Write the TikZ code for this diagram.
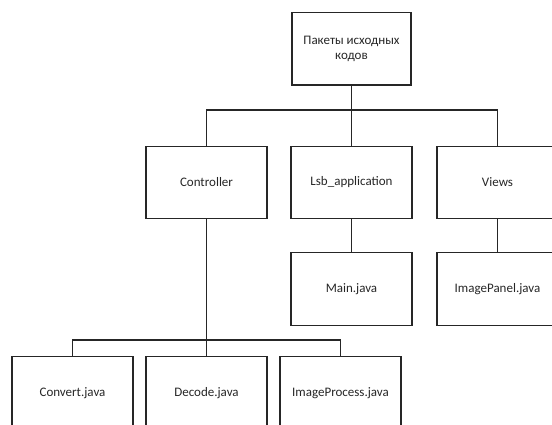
\documentclass[tikz,border=0pt]{standalone}
\usepackage{fontspec}
\setmainfont{Carlito}
\begin{document}
\begin{tikzpicture}[x=1pt,y=-1pt,
  box/.style={draw=black!85, line width=1.1pt, rectangle, minimum width=121pt, minimum height=72pt, inner sep=0pt, align=center, font=\fontsize{13}{15.5}\selectfont, text=black!85},
  conn/.style={draw=black!85, line width=1.1pt}]
\useasboundingbox (0,0) rectangle (552,425);
\clip (0,0) rectangle (552,425);
\node[box, minimum width=119pt, minimum height=72.5pt] (top) at (351.5,48.8) {Пакеты исходных\\кодов};
\node[box] (ctrl) at (206.5,182.3) {Controller};
\node[box] (lsb) at (351.5,182.3) {Lsb\_application};
\node[box] (views) at (497.5,182.3) {Views};
\node[box, minimum height=73pt] (main) at (351.5,289.3) {Main.java};
\node[box, minimum height=73pt] (panel) at (497.5,289) {ImagePanel.java};
\node[box] (conv) at (72.5,392.7) {Convert.java};
\node[box] (dec) at (206.5,392.7) {Decode.java};
\node[box] (proc) at (340.5,392.7) {ImageProcess.java};
\coordinate (bus1) at (0,110);
\coordinate (bus2) at (0,340);
\draw[conn] (top.south) -- (lsb.north);
\draw[conn] (ctrl.north) -- (ctrl.north |- bus1) -- (views.north |- bus1) -- (views.north);
\draw[conn] (lsb.south) -- (main.north);
\draw[conn] (views.south) -- (panel.north);
\draw[conn] (ctrl.south) -- (dec.north);
\draw[conn] (conv.north) -- (conv.north |- bus2) -- (proc.north |- bus2) -- (proc.north);
\end{tikzpicture}
\end{document}
